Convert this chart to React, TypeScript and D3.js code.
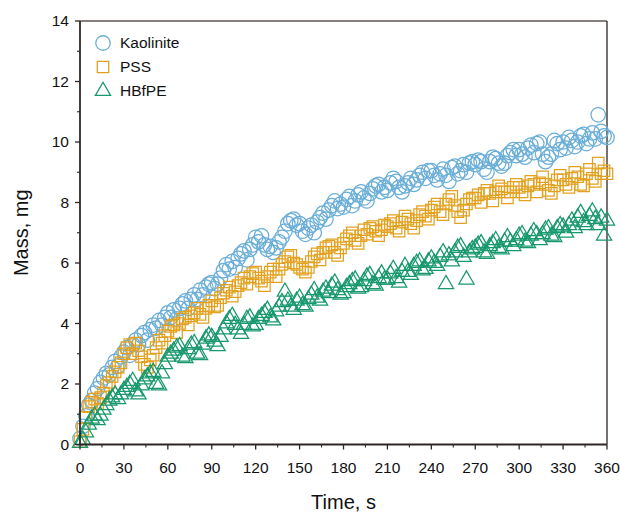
import React from 'react'
import * as d3 from 'd3'

// sampling every 2 s, 0..360
const timeStep = 2
const times = d3.range(0, 361, timeStep)

const kaolinite = [
  0.2, 0.6, 0.95, 1.3, 1.45, 1.7, 1.85, 2.05, 2.2, 2.35, 2.3, 2.55, 2.75, 2.6, 2.9,
  3.05, 3.2, 2.95, 3.3, 3.45, 3.3, 3.6, 3.7, 3.45, 3.8, 3.95, 3.85, 4.1, 3.95, 4.2,
  4.35, 4.2, 4.45, 4.15, 4.5, 4.65, 4.75, 4.5, 4.8, 4.95, 4.8, 5.1, 4.95, 5.2, 5.3,
  5.35, 5.15, 5.3, 5.5, 5.75, 5.95, 5.8, 6.05, 5.85, 6.15, 6.3, 6.4, 6.1, 6.45, 6.6,
  6.85, 6.7, 6.9, 6.6, 6.45, 6.55, 6.35, 6.5, 6.7, 6.85, 7.05, 7.3, 7.4, 7.45, 7.25,
  7.3, 7.05, 6.95, 7.15, 7.25, 7.0, 7.35, 7.5, 7.65, 7.45, 7.75, 7.9, 8.05, 7.8, 7.95,
  7.85, 8.1, 8.2, 7.9, 8.05, 8.25, 8.35, 8.15, 8.05, 8.3, 8.45, 8.55, 8.6, 8.35, 8.5,
  8.4, 8.65, 8.8, 8.7, 8.5, 8.35, 8.55, 8.65, 8.8, 8.6, 8.75, 8.9, 9.0, 8.8, 9.05,
  9.05, 8.9, 8.75, 8.95, 9.1, 8.9, 8.7, 9.15, 9.2, 8.95, 9.05, 9.25, 9.0, 9.3, 9.35,
  9.25, 9.4, 9.35, 9.1, 9.0, 9.35, 9.5, 9.45, 9.3, 9.2, 9.3, 9.55, 9.65, 9.75, 9.55,
  9.75, 9.6, 9.5, 9.8, 9.9, 9.65, 9.95, 10.0, 9.6, 9.35, 9.5, 9.6, 10.05, 9.95, 9.75,
  10.0, 9.8, 10.15, 10.05, 9.85, 10.0, 10.2, 10.25, 9.95, 10.1, 10.3, 10.1, 10.9, 10.35, 10.2,
  10.15,
]

const pss = [
  0.1, 0.5, 0.9, 1.25, 1.4, 1.5, 1.35, 1.55, 1.7, 1.95, 2.05, 2.25, 2.4, 2.55, 2.7,
  3.0, 3.2, 3.3, 3.0, 3.35, 3.1, 2.9, 2.65, 2.55, 2.8, 2.95, 3.2, 3.45, 3.35, 3.6,
  3.75, 3.9, 3.95, 3.7, 4.0, 4.15, 4.2, 3.95, 4.25, 4.35, 4.5, 4.3, 4.2, 4.5, 4.6,
  4.75, 4.55, 4.6, 4.85, 5.0, 5.1, 5.2, 4.9, 5.05, 5.25, 5.35, 5.5, 5.3, 5.55, 5.65,
  5.7, 5.5, 5.4, 5.25, 5.55, 5.7, 5.8, 5.55, 5.8, 5.95, 6.05, 6.2, 6.25, 6.0, 5.95,
  5.85, 5.8, 5.7, 5.85, 6.05, 6.2, 6.3, 6.1, 6.35, 6.5, 6.55, 6.6, 6.35, 6.25, 6.5,
  6.65, 6.8, 6.9, 7.0, 6.75, 6.65, 6.9, 7.1, 6.95, 7.15, 7.2, 7.05, 6.9, 7.1, 7.25,
  7.2, 7.3, 7.4, 7.15, 7.05, 7.35, 7.55, 7.45, 7.3, 7.15, 7.4, 7.6, 7.7, 7.55, 7.45,
  7.75, 7.85, 7.95, 7.7, 7.6, 7.95, 8.1, 8.2, 7.9, 7.7, 7.5, 7.75, 7.95, 8.1, 8.15,
  8.15, 8.25, 8.0, 8.3, 8.4, 8.3, 8.05, 8.35, 8.55, 8.45, 8.35, 8.15, 8.35, 8.5, 8.6,
  8.5, 8.35, 8.25, 8.55, 8.7, 8.6, 8.35, 8.65, 8.85, 8.6, 8.4, 8.3, 8.55, 8.75, 8.9,
  8.75, 8.6, 8.5, 8.8, 9.0, 8.85, 8.6, 8.55, 8.95, 9.1, 8.8, 8.7, 9.3, 8.95, 9.05,
  8.95,
]

const hbfpe = [
  0.05, 0.15, 0.4, 0.65, 0.85, 0.95, 0.8, 0.95, 1.15, 1.3, 1.45, 1.55, 1.65, 1.5, 1.65,
  1.8, 1.9, 2.0, 2.1, 1.75, 1.65, 1.95, 2.15, 2.25, 2.35, 2.4, 2.0, 1.95, 2.35, 2.65,
  2.9, 3.0, 3.1, 3.2, 3.25, 2.9, 2.85, 3.15, 3.3, 3.35, 3.0, 2.95, 3.3, 3.5, 3.6,
  3.55, 3.4, 3.25, 3.55, 3.8, 4.0, 4.15, 4.25, 3.95, 3.8, 3.65, 3.95, 4.15, 4.2, 3.9,
  3.95, 4.15, 4.25, 4.35, 4.45, 4.2, 4.1, 4.4, 4.55, 4.7, 5.05, 4.75, 4.55, 4.45, 4.75,
  4.85, 4.6, 4.55, 4.8, 4.95, 5.1, 4.85, 4.75, 5.05, 5.15, 5.0, 5.25, 5.35, 5.1, 4.95,
  5.0, 5.2, 5.3, 5.4, 5.45, 5.15, 5.2, 5.4, 5.55, 5.6, 5.3, 5.25, 5.5, 5.65, 5.45,
  5.45, 5.65, 5.8, 5.5, 5.35, 5.7, 5.9, 5.7, 5.6, 5.9, 6.0, 6.05, 5.75, 5.8, 6.05,
  6.15, 6.0, 5.9, 6.2, 6.35, 5.3, 6.25, 6.05, 6.35, 6.5, 6.55, 6.2, 5.45, 6.35, 6.45,
  6.5, 6.6, 6.65, 6.35, 6.3, 6.55, 6.65, 6.75, 6.5, 6.45, 6.7, 6.85, 6.7, 6.55, 6.75,
  6.9, 6.95, 6.7, 6.65, 6.9, 7.05, 6.95, 6.75, 6.95, 7.1, 7.15, 6.9, 6.85, 7.15, 7.25,
  7.2, 7.0, 7.25, 7.4, 7.15, 7.5, 7.65, 7.35, 7.25, 7.55, 7.7, 7.45, 7.25, 7.5, 6.9,
  7.4,
]

const seriesNames = ['Kaolinite', 'PSS', 'HBfPE']
const seriesValues = [kaolinite, pss, hbfpe]
const seriesColors = ['#6aaed8', '#e3a11f', '#17986d']
const seriesSymbols = [d3.symbolCircle, d3.symbolSquare, d3.symbolTriangle]
const symbolSizes = [165, 130, 100]

const xTicks = d3.range(0, 361, 30)
const yTicks = d3.range(0, 15, 2)

const W = 620
const H = 512
const left = 80, right = 607, top = 21, bottom = 444.5
const axisColor = '#2e2624'
const font = 'Arial, "Liberation Sans", sans-serif'

export default function App() {
  const x = d3.scaleLinear().domain([0, 360]).range([left, right])
  const y = d3.scaleLinear().domain([0, 14]).range([bottom, top])

  const xMinor = d3.range(15, 360, 30)
  const yMinor = d3.range(1, 14, 2)

  return (
    <svg width={W} height={H} style={{ position: 'absolute', left: 0, top: 0 }} fontFamily={font}>
      <rect width={W} height={H} fill="#fff" />

      {/* frame */}
      <line x1={left} x2={right} y1={top} y2={top} stroke="#5e5654" strokeWidth={1.3} />
      <line x1={right} x2={right} y1={top} y2={bottom} stroke={axisColor} strokeWidth={1.3} />

      {/* data */}
      {seriesValues.map((vals, si) => {
        const path = d3.symbol().type(seriesSymbols[si]).size(symbolSizes[si])()
        return (
          <g key={seriesNames[si]} fill="none" stroke={seriesColors[si]} strokeWidth={1.25}>
            {vals.map((v, i) => (
              <path key={i} d={path} transform={`translate(${x(times[i])},${y(v)})`} />
            ))}
          </g>
        )
      })}

      {/* y axis */}
      <line x1={left} x2={left} y1={top} y2={bottom} stroke={axisColor} strokeWidth={1.8} />
      {yTicks.map(t => (
        <g key={'y' + t}>
          <line x1={left - 5} x2={left} y1={y(t)} y2={y(t)} stroke={axisColor} strokeWidth={1.3} />
          <text x={left - 11} y={y(t)} dy="0.35em" textAnchor="end" fontSize={15.5} fill="#111">{t}</text>
        </g>
      ))}
      {yMinor.map(t => (
        <line key={'ym' + t} x1={left - 3} x2={left} y1={y(t)} y2={y(t)} stroke={axisColor} strokeWidth={1.1} />
      ))}

      {/* x axis */}
      <line x1={left} x2={right} y1={bottom} y2={bottom} stroke={axisColor} strokeWidth={1.8} />
      {xTicks.map(t => (
        <g key={'x' + t}>
          <line x1={x(t)} x2={x(t)} y1={bottom} y2={bottom + 5} stroke={axisColor} strokeWidth={1.3} />
          <text x={x(t)} y={473} textAnchor="middle" fontSize={15.5} fill="#111">{t}</text>
        </g>
      ))}
      {xMinor.map(t => (
        <line key={'xm' + t} x1={x(t)} x2={x(t)} y1={bottom} y2={bottom + 3} stroke={axisColor} strokeWidth={1.1} />
      ))}

      {/* titles */}
      <text x={(left + right) / 2} y={509} textAnchor="middle" fontSize={20} fill="#111">Time, s</text>
      <text transform={`translate(28,${(top + bottom) / 2}) rotate(-90)`} textAnchor="middle" fontSize={20} fill="#111">Mass, mg</text>

      {/* legend */}
      {seriesNames.map((name, si) => {
        const path = d3.symbol().type(seriesSymbols[si]).size(symbolSizes[si])()
        const ly = 43 + si * 24
        return (
          <g key={'leg' + name}>
            <path d={path} transform={`translate(103,${ly})`} fill="none" stroke={seriesColors[si]} strokeWidth={1.3} />
            <text x={120} y={ly} dy="0.35em" fontSize={15.5} fill="#111">{name}</text>
          </g>
        )
      })}
    </svg>
  )
}
